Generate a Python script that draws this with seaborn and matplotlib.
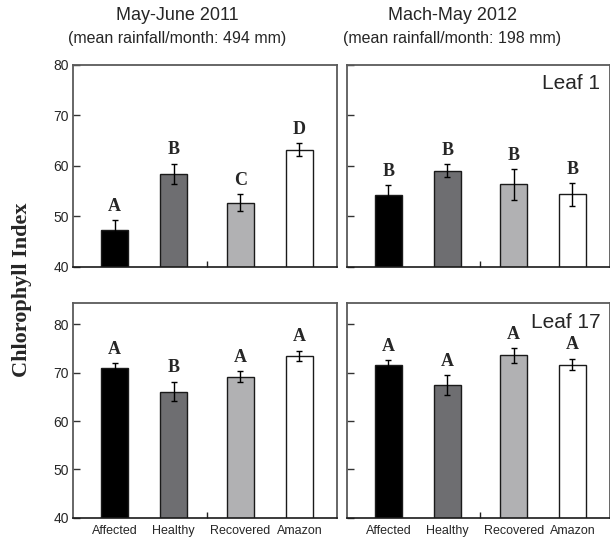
import numpy as np
import pandas as pd
import seaborn as sns
import matplotlib.pyplot as plt

groups = ['Affected', 'Healthy', 'Recovered', 'Amazon']
xpos = [0, 1, 2.13, 3.13]
colors = ['#000000', '#6d6e71', '#b0b1b4', '#ffffff']

# Leaf 1
leaf1_2011 = [47.2, 58.4, 52.7, 63.2]
leaf1_2011_err = [2.0, 2.0, 1.6, 1.3]
leaf1_2011_let = ['A', 'B', 'C', 'D']
leaf1_2012 = [54.1, 59.0, 56.3, 54.3]
leaf1_2012_err = [2.0, 1.3, 3.0, 2.2]
leaf1_2012_let = ['B', 'B', 'B', 'B']
# Leaf 17
leaf17_2011 = [71.0, 66.1, 69.2, 73.5]
leaf17_2011_err = [1.0, 2.0, 1.1, 1.1]
leaf17_2011_let = ['A', 'B', 'A', 'A']
leaf17_2012 = [71.7, 67.4, 73.6, 71.7]
leaf17_2012_err = [0.9, 2.1, 1.5, 1.2]
leaf17_2012_let = ['A', 'A', 'A', 'A']

titles = ['May-June 2011', 'Mach-May 2012']
subtitles = ['(mean rainfall/month: 494 mm)', '(mean rainfall/month: 198 mm)']

sns.set_style("ticks")
narrow = ['Liberation Sans Narrow', 'Liberation Sans', 'DejaVu Sans']
serif = ['Liberation Serif', 'DejaVu Serif']
plt.rcParams['font.family'] = narrow

fig = plt.figure(figsize=(6.1, 5.37), dpi=100)

W, H = 610, 537
def px_axes(x0, x1, ytop, ybot):
    return fig.add_axes([x0 / W, (H - ybot) / H, (x1 - x0) / W, (ybot - ytop) / H])

panels = [
    (px_axes(73.3, 336.7, 65, 266.5), leaf1_2011, leaf1_2011_err, leaf1_2011_let, (40, 80), None, False),
    (px_axes(347.3, 609.5, 65, 266.5), leaf1_2012, leaf1_2012_err, leaf1_2012_let, (40, 80), 'Leaf 1', False),
    (px_axes(73.3, 336.7, 302.7, 517.7), leaf17_2011, leaf17_2011_err, leaf17_2011_let, (40, 84.5), None, True),
    (px_axes(347.3, 609.5, 302.7, 517.7), leaf17_2012, leaf17_2012_err, leaf17_2012_let, (40, 84.5), 'Leaf 17', True),
]

for i, (ax, vals, errs, lets, ylim, leaf, bottom) in enumerate(panels):
    df = pd.DataFrame({'pos': xpos, 'val': vals, 'group': groups})
    sns.barplot(data=df, x='pos', y='val', hue='group', hue_order=groups,
                palette=dict(zip(groups, colors)), native_scale=True, dodge=False,
                width=0.46, edgecolor='#1a1a1a', linewidth=1, legend=False,
                errorbar=None, ax=ax)
    ax.errorbar(xpos, vals, yerr=errs, fmt='none', ecolor='black',
                elinewidth=1, capsize=2, capthick=1)
    for x, v, e, l in zip(xpos, vals, errs, lets):
        ax.annotate(l, (x, v + e), xytext=(0, 4), textcoords='offset points',
                    ha='center', va='bottom', family=serif,
                    fontweight='bold', fontsize=13)
    ax.set_xlim(-0.70, 3.76)
    ax.set_ylim(*ylim)
    ax.set_yticks([40, 50, 60, 70, 80])
    ax.tick_params(axis='y', direction='in', length=5, width=1, color='#333333',
                   labelsize=10, pad=3, labelleft=(i % 2 == 0))
    ax.set_xticks(xpos)
    ax.set_xticklabels(groups if bottom else [], fontsize=9)
    ax.tick_params(axis='x', which='major', length=0, pad=5)
    ax.set_xticks([1.565], minor=True)
    ax.tick_params(axis='x', which='minor', direction='in', length=4, width=1, color='#222222')
    ax.set_xlabel('')
    ax.set_ylabel('')
    for s in ['top', 'right', 'left']:
        ax.spines[s].set_color('#5a5a5a')
        ax.spines[s].set_linewidth(1.3)
    ax.spines['bottom'].set_color('#1a1a1a')
    ax.spines['bottom'].set_linewidth(1.2)
    if leaf:
        ax.text(0.965, 0.91, leaf, transform=ax.transAxes, ha='right', va='center', fontsize=15)

for t, s, xc in zip(titles, subtitles, [177, 452]):
    fig.text(xc / W, 1 - 16 / H, t, ha='center', va='center', fontsize=13)
    fig.text(xc / W, 1 - 38 / H, s, ha='center', va='center', fontsize=11.5)

fig.text(22 / W, 1 - 290 / H, 'Chlorophyll Index', rotation=90, ha='center', va='center',
         family=serif, fontweight='bold', fontsize=16)

fig.savefig('out.png', dpi=100)
